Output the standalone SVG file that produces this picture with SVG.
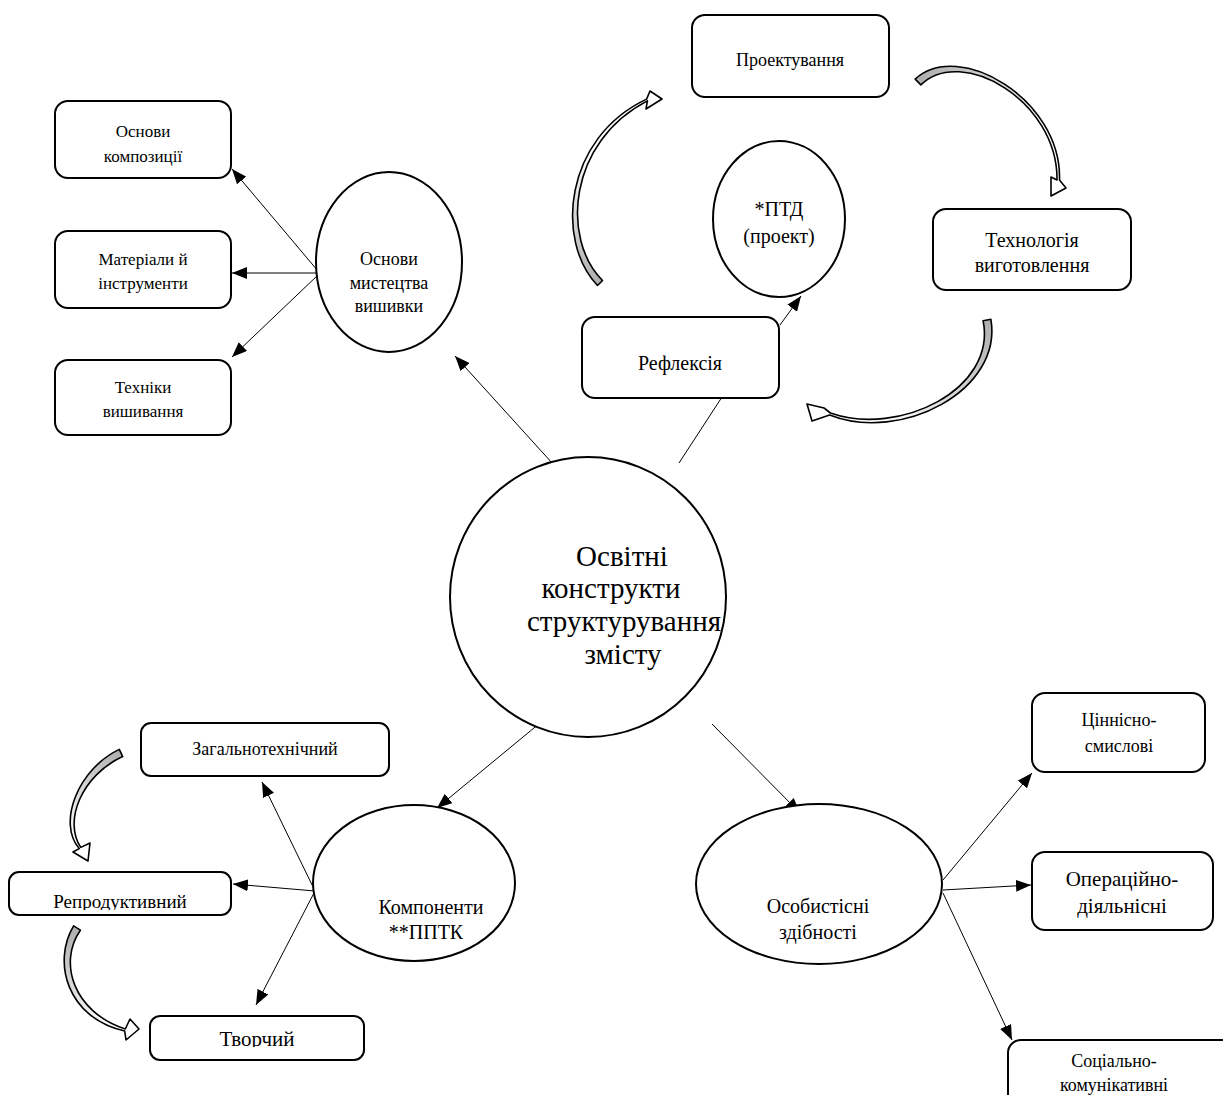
<svg xmlns="http://www.w3.org/2000/svg" width="1223" height="1095" viewBox="0 0 1223 1095">
<style>
.box{fill:#fff;stroke:#000;stroke-width:2}
.ell{fill:#fff;stroke:#000;stroke-width:2}
.t{font-family:"Liberation Serif","Times New Roman",serif;fill:#000;text-anchor:middle}
.con{stroke:#000;stroke-width:1;fill:none}
.ca{stroke:#000;stroke-width:1.6;stroke-linejoin:round}
</style>
<defs>
<marker id="ah" markerUnits="userSpaceOnUse" markerWidth="16" markerHeight="12" refX="15" refY="6" orient="auto">
<path d="M0,0 L15,6 L0,12 z" fill="#000"/>
</marker>
<linearGradient id="gA" gradientUnits="userSpaceOnUse" x1="600" y1="283" x2="610" y2="150"><stop offset="0" stop-color="#b0b0b0"/><stop offset="1" stop-color="#fff"/></linearGradient>
<linearGradient id="gB" gradientUnits="userSpaceOnUse" x1="918" y1="82" x2="1050" y2="150"><stop offset="0" stop-color="#b0b0b0"/><stop offset="1" stop-color="#fff"/></linearGradient>
<linearGradient id="gC" gradientUnits="userSpaceOnUse" x1="987" y1="320" x2="880" y2="425"><stop offset="0" stop-color="#b0b0b0"/><stop offset="1" stop-color="#fff"/></linearGradient>
<linearGradient id="gD" gradientUnits="userSpaceOnUse" x1="121" y1="753" x2="70" y2="840"><stop offset="0" stop-color="#b0b0b0"/><stop offset="1" stop-color="#fff"/></linearGradient>
<linearGradient id="gE" gradientUnits="userSpaceOnUse" x1="77" y1="928" x2="110" y2="1025"><stop offset="0" stop-color="#b0b0b0"/><stop offset="1" stop-color="#fff"/></linearGradient>
<clipPath id="clipR"><rect x="9" y="860" width="222" height="50"/></clipPath>
<clipPath id="clipT"><rect x="150" y="1010" width="214" height="37"/></clipPath>
</defs>
<rect width="1223" height="1095" fill="#fff"/>

<g id="connectors">
<line class="con" x1="318" y1="271" x2="232" y2="169" marker-end="url(#ah)"/>
<line class="con" x1="318" y1="273" x2="232" y2="273" marker-end="url(#ah)"/>
<line class="con" x1="318" y1="275" x2="232" y2="357" marker-end="url(#ah)"/>
<line class="con" x1="553" y1="464" x2="455" y2="356" marker-end="url(#ah)"/>
<line class="con" x1="679" y1="463" x2="722" y2="397"/>
<line class="con" x1="780" y1="325" x2="801" y2="296" marker-end="url(#ah)"/>
<line class="con" x1="540" y1="723" x2="437" y2="808" marker-end="url(#ah)"/>
<line class="con" x1="712" y1="724" x2="800" y2="813" marker-end="url(#ah)"/>
<line class="con" x1="315" y1="891" x2="262" y2="782" marker-end="url(#ah)"/>
<line class="con" x1="315" y1="891" x2="233" y2="884" marker-end="url(#ah)"/>
<line class="con" x1="315" y1="891" x2="256" y2="1005" marker-end="url(#ah)"/>
<line class="con" x1="943" y1="880" x2="1032" y2="773" marker-end="url(#ah)"/>
<line class="con" x1="943" y1="890" x2="1031" y2="885" marker-end="url(#ah)"/>
<line class="con" x1="943" y1="893" x2="1012" y2="1040" marker-end="url(#ah)"/>
<path class="ca" fill="url(#gA)" d="M597.5,285.5 C555,241 564,138 646.6,99.1 L650,91 L662,99 L646,109 L647.4,100.9 C568,142 561,239 602.5,280.5 Z"/>
<path class="ca" fill="url(#gB)" d="M915.2,79.1 C958.5,39 1062,99 1059.5,180 L1066,188 L1051,196 L1051,177 L1057,180 C1058,101 961.5,45 920.8,84.9 Z"/>
<path class="ca" fill="url(#gC)" d="M990.9,319.3 C1003,390.5 901,443 829.6,415 L812,421 L807,404 L824,408 L830.4,413 C899,437 997,389.5 983.1,320.7 Z"/>
<path class="ca" fill="url(#gD)" d="M119.3,749.4 C78,769 57,823 79.2,848.6 L73,852 L88,861 L90,843 L80.8,847.4 C63,821 82,775 122.7,756.6 Z"/>
<path class="ca" fill="url(#gE)" d="M73.6,925.8 C52,962 67,1018 124.7,1031 L126,1040 L139,1029 L130,1019 L125.3,1029 C73,1012 58,962 80.4,930.2 Z"/>
</g>

<g id="n-osnovy-kompozytsii"><rect class="box" x="55" y="101" width="176" height="77" rx="13"/><text class="t" font-size="17" x="143" y="137">Основи</text><text class="t" font-size="17" x="143" y="162">композиції</text></g>
<g id="n-materialy"><rect class="box" x="55" y="231" width="176" height="77" rx="13"/><text class="t" font-size="17" x="143" y="265">Матеріали й</text><text class="t" font-size="17" x="143" y="289">інструменти</text></g>
<g id="n-tekhniky"><rect class="box" x="55" y="360" width="176" height="75" rx="13"/><text class="t" font-size="17" x="143" y="393">Техніки</text><text class="t" font-size="17" x="143" y="417">вишивання</text></g>
<g id="n-osnovy-mystetstva"><ellipse class="ell" cx="389" cy="262" rx="73" ry="90"/><text class="t" font-size="18" x="389" y="265">Основи</text><text class="t" font-size="18" x="389" y="289">мистецтва</text><text class="t" font-size="18" x="389" y="312">вишивки</text></g>
<g id="n-proektuvannia"><rect class="box" x="692" y="15" width="197" height="82" rx="13"/><text class="t" font-size="18" x="790" y="66">Проектування</text></g>
<g id="n-ptd"><ellipse class="ell" cx="779" cy="219" rx="66" ry="78"/><text class="t" font-size="20" x="779" y="216">*ПТД</text><text class="t" font-size="20" x="779" y="243">(проект)</text></g>
<g id="n-tekhnolohiia"><rect class="box" x="933" y="209" width="198" height="81" rx="13"/><text class="t" font-size="20" x="1032" y="247">Технологія</text><text class="t" font-size="20" x="1032" y="272">виготовлення</text></g>
<g id="n-refleksiia"><rect class="box" x="582" y="317" width="197" height="81" rx="13"/><text class="t" font-size="20" x="680" y="370">Рефлексія</text></g>
<g id="n-center"><ellipse class="ell" cx="588" cy="597" rx="138" ry="140"/><text class="t" font-size="29" x="622" y="566">Освітні</text><text class="t" font-size="29" x="611" y="598">конструкти</text><text class="t" font-size="29" x="624" y="631">структурування</text><text class="t" font-size="29" x="623" y="664">змісту</text></g>
<g id="n-zahalnotekhnichnyi"><rect class="box" x="141" y="723" width="248" height="53" rx="10"/><text class="t" font-size="18" x="265" y="755">Загальнотехнічний</text></g>
<g id="n-reproduktyvnyi"><rect class="box" x="9" y="872" width="222" height="43" rx="10"/><text class="t" font-size="19" x="120" y="908" clip-path="url(#clipR)">Репродуктивний</text></g>
<g id="n-tvorchyi"><rect class="box" x="150" y="1016" width="214" height="44" rx="10"/><text class="t" font-size="21" x="257" y="1046" clip-path="url(#clipT)">Творчий</text></g>
<g id="n-komponenty"><ellipse class="ell" cx="414" cy="883" rx="101" ry="78"/><text class="t" font-size="20" x="431" y="914">Компоненти</text><text class="t" font-size="20" x="426" y="939">**ППТК</text></g>
<g id="n-osobystisni"><ellipse class="ell" cx="819" cy="884" rx="123" ry="80"/><text class="t" font-size="20" x="818" y="913">Особистісні</text><text class="t" font-size="20" x="818" y="939">здібності</text></g>
<g id="n-tsinnisno"><rect class="box" x="1032" y="693" width="173" height="79" rx="13"/><text class="t" font-size="18" x="1119" y="726">Ціннісно-</text><text class="t" font-size="18" x="1119" y="752">смислові</text></g>
<g id="n-operatsiino"><rect class="box" x="1032" y="852" width="181" height="78" rx="13"/><text class="t" font-size="21" x="1122" y="886">Операційно-</text><text class="t" font-size="21" x="1122" y="913">діяльнісні</text></g>
<g id="n-sotsialno"><rect class="box" x="1008" y="1040" width="230" height="70" rx="13"/><text class="t" font-size="18" x="1114" y="1067">Соціально-</text><text class="t" font-size="18" x="1114" y="1091">комунікативні</text></g>
</svg>
